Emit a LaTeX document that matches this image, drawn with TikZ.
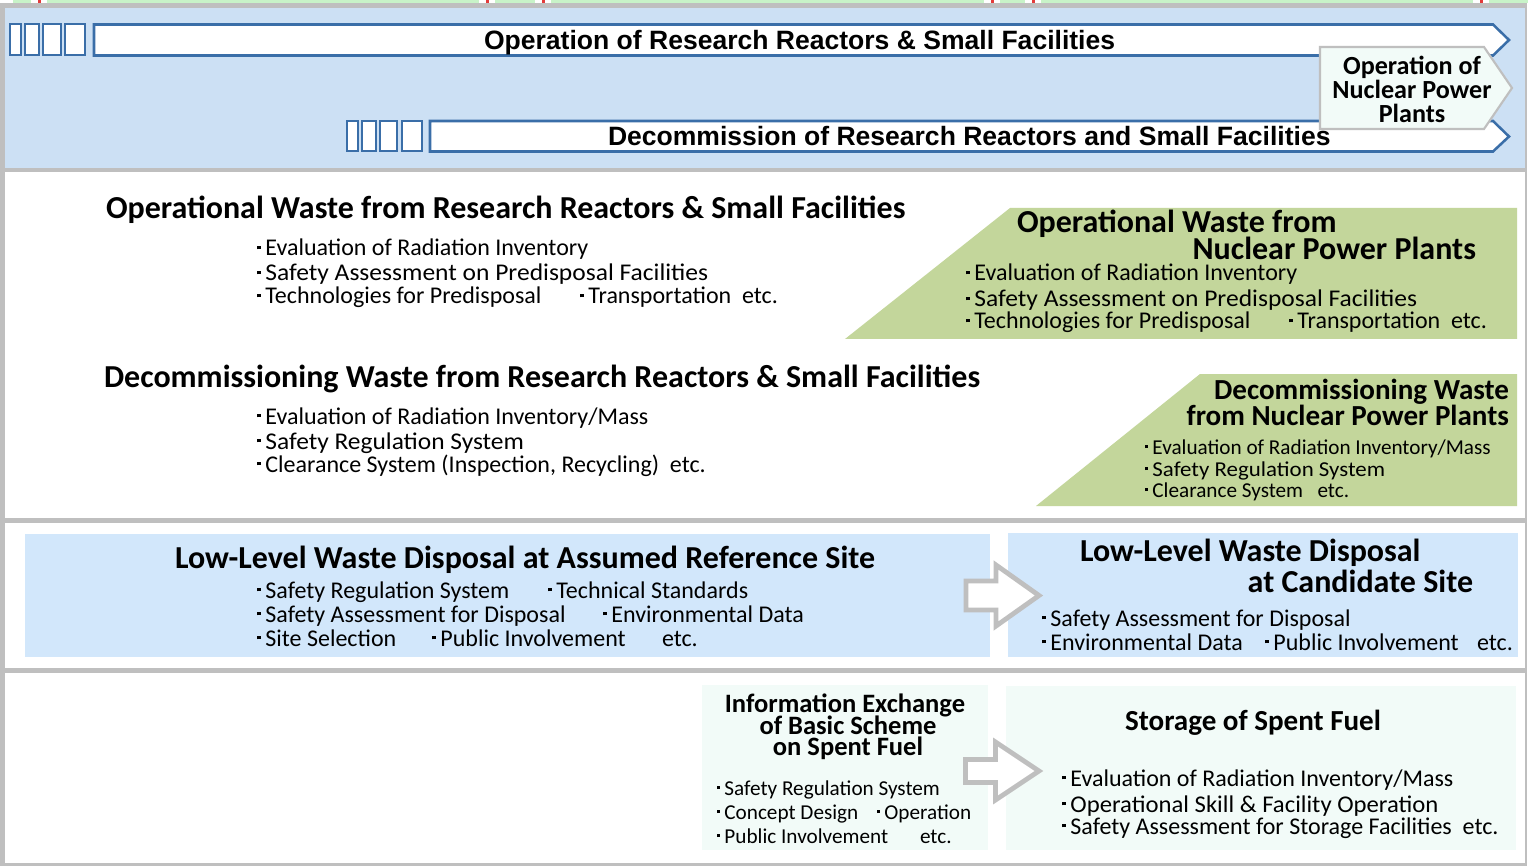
\documentclass[tikz,border=0pt]{standalone}
\usepackage{fontspec}
\setmainfont{Carlito}
\newfontfamily\arialf{Liberation Sans}
\definecolor{hdrbg}{HTML}{CCE0F4}
\definecolor{hdrline}{HTML}{3A6EA8}
\definecolor{sepgray}{HTML}{BFBFBF}
\definecolor{leafgreen}{HTML}{C3D69B}
\definecolor{boxblue}{HTML}{D2E7FB}
\definecolor{boxmint}{HTML}{F2FBF8}
\definecolor{stripgreen}{HTML}{C8F3C8}
\definecolor{stripred}{HTML}{E23A3A}
\newcommand\bl{\rule[0.28em]{0.15em}{0.15em}\hspace{0.2em}}
\newcommand\wide[2]{\scalebox{#1}[1]{#2}}
\tikzset{
  txt/.style={inner sep=0pt, outer sep=0pt},
  hdr/.style={txt, anchor=base west, font=\arialf\bfseries\fontsize{19.9}{20}\selectfont},
  npp/.style={txt, anchor=base, font=\bfseries\fontsize{19.6}{20}\selectfont},
  ttl/.style={txt, font=\bfseries\fontsize{24}{24}\selectfont},
  ttm/.style={txt, font=\bfseries\fontsize{21.8}{22}\selectfont},
  tts/.style={txt, anchor=base, font=\bfseries\fontsize{19.9}{20}\selectfont},
  itm/.style={txt, anchor=base west, font=\fontsize{18}{18}\selectfont},
  itms/.style={txt, anchor=base west, font=\fontsize{15.9}{16}\selectfont},
  sq/.style={draw=hdrline, line width=1.5pt, fill=white},
  bar/.style={draw=hdrline, line width=1.9pt, fill=white, line join=miter},
  blockarrow/.style={draw=sepgray, line width=3.6pt, fill=white, line join=miter},
}
\begin{document}
\begin{tikzpicture}[x=0.75pt,y=-0.75pt]
\useasboundingbox (0,0) rectangle (1528,866);
% top strip remnant
\fill[stripgreen] (13,0) rectangle (1528,3.5);
\foreach \xx in {39,487,543,992,1033,1481}{
  \fill[white] (\xx-8,0) rectangle (\xx+8,3.5);
  \fill[stripred] (\xx-1,0) rectangle (\xx+1.5,3.5);
}
% frame and panels
\fill[sepgray] (0,3.5) rectangle (1527,866);
\fill[hdrbg] (5,8) rectangle (1525,168);
\fill[white] (5,172.5) rectangle (1525,518);
\fill[white] (5,523) rectangle (1525,668);
\fill[white] (5,673) rectangle (1525,863);

% ---- panel 1 ----
\draw[sq] (9.5,24.5) rectangle (21,55.5);
\draw[sq] (25,24.5) rectangle (39,55.5);
\draw[sq] (43,24.5) rectangle (60.5,55.5);
\draw[sq] (64.5,24.5) rectangle (85,55.5);
\draw[bar] (94,24.5) -- (1493,24.5) -- (1509,40) -- (1493,55.5) -- (94,55.5) -- cycle;
\node[hdr] (hdr1) at (484,50) {Operation of Research Reactors \& Small Facilities};

\draw[sq] (347,121) rectangle (358,151.5);
\draw[sq] (361.5,121) rectangle (376,151.5);
\draw[sq] (380,121) rectangle (397,151.5);
\draw[sq] (401.5,121) rectangle (421.5,151.5);
\draw[bar] (430,121) -- (1493,121) -- (1509,136.5) -- (1493,151.5) -- (430,151.5) -- cycle;
\node[hdr] (hdr2) at (608,146) {Decommission of Research Reactors and Small Facilities};

\draw[draw=sepgray, line width=1.6pt, fill=boxmint, line join=miter]
  (1320,47) -- (1484,47) -- (1512,88) -- (1484,129) -- (1320,129) -- cycle;
\node[npp] (npp1) at (1412,74.5) {Operation of};
\node[npp] (npp2) at (1412,98.5) {Nuclear Power};
\node[npp] (npp3) at (1412,122.5) {Plants};

% ---- panel 2 ----
\node[ttl, anchor=base west] (owrr) at (106,219) {Operational Waste from Research Reactors \& Small Facilities};
\node[itm] (owrr1) at (257,256) {\bl Evaluation of Radiation Inventory};
\node[itm] (owrr2) at (257,281) {\bl \wide{1.063}{Safety Assessment on Predisposal Facilities}};
\node[itm] (owrr3) at (257,304) {\bl Technologies for Predisposal};
\node[itm] (owrr4) at (580,304) {\bl Transportation\ \ etc.};

\fill[leafgreen] (845,339) -- (1010,208) -- (1517,208) -- (1517,339) -- cycle;
\node[ttl, anchor=base west] (ownpp1) at (1017,233) {Operational Waste from};
\node[ttl, anchor=base east] (ownpp2) at (1476,260) {Nuclear Power Plants};
\node[itm] (ownpp3) at (966,281) {\bl Evaluation of Radiation Inventory};
\node[itm] (ownpp4) at (966,307) {\bl \wide{1.063}{Safety Assessment on Predisposal Facilities}};
\node[itm] (ownpp5) at (966,329) {\bl Technologies for Predisposal};
\node[itm] (ownpp6) at (1289,329) {\bl Transportation\ \ etc.};

\node[ttl, anchor=base west] (dwrr) at (104,387) {Decommissioning Waste from Research Reactors \& Small Facilities};
\node[itm] (dwrr1) at (257,424) {\bl Evaluation of Radiation Inventory/Mass};
\node[itm] (dwrr2) at (257,449) {\bl \wide{1.06}{Safety Regulation System}};
\node[itm] (dwrr3) at (257,472) {\bl Clearance System (Inspection, Recycling)\ \ etc.};

\fill[leafgreen] (1036,506) -- (1200,374) -- (1517,374) -- (1517,506) -- cycle;
\node[ttm, anchor=base east] (dwnpp1) at (1509,399) {Decommissioning Waste};
\node[ttm, anchor=base east] (dwnpp2) at (1509,425) {from Nuclear Power Plants};
\node[itms] (dwnpp3) at (1145,454) {\bl Evaluation of Radiation Inventory/Mass};
\node[itms] (dwnpp4) at (1145,476) {\bl \wide{1.08}{Safety Regulation System}};
\node[itms] (dwnpp5) at (1145,497) {\bl Clearance System\ \ \ etc.};

% ---- panel 3 ----
\fill[boxblue] (25,534) rectangle (990,657);
\node[ttl, anchor=base west] (llref) at (175,568) {Low-Level Waste Disposal at Assumed Reference Site};
\node[itm] (llref1) at (257,598) {\bl Safety Regulation System};
\node[itm] (llref2) at (257,622) {\bl Safety Assessment for Disposal};
\node[itm] (llref3) at (257,646) {\bl Site Selection};
\node[itm] (llref4) at (548,598) {\bl Technical Standards};
\node[itm] (llref5) at (603,622) {\bl Environmental Data};
\node[itm] (llref6) at (432,646) {\bl Public Involvement};
\node[itm] (llref7) at (662,646) {etc.};

\fill[boxblue] (1008,533) rectangle (1518,657);
\node[ttl, anchor=base west] (llcand1) at (1080,561) {Low-Level Waste Disposal};
\node[ttl, anchor=base east] (llcand2) at (1473,592) {at Candidate Site};
\node[itm] (llcand3) at (1042,626) {\bl Safety Assessment for Disposal};
\node[itm] (llcand4) at (1042,650) {\bl Environmental Data};
\node[itm] (llcand5) at (1265,650) {\bl Public Involvement};
\node[itm] (llcand6) at (1477,650) {etc.};

\draw[blockarrow] (966,581) -- (996,581) -- (996,565) -- (1039,595.5) -- (996,626) -- (996,610) -- (966,610) -- cycle;

% ---- panel 4 ----
\fill[boxmint] (702,685) rectangle (988,850);
\node[tts] (info1) at (845,712) {Information Exchange};
\node[tts] (info2) at (848,734) {of Basic Scheme};
\node[tts] (info3) at (848,755) {on Spent Fuel};
\node[itms] (info4) at (717,795) {\bl Safety Regulation System};
\node[itms] (info5) at (717,819) {\bl Concept Design};
\node[itms] (info6) at (877,819) {\bl Operation};
\node[itms] (info7) at (717,843) {\bl Public Involvement};
\node[itms] (info8) at (920,843) {etc.};

\fill[boxmint] (1006,686) rectangle (1516,850);
\node[ttm, anchor=base] (stor) at (1253,730) {Storage of Spent Fuel};
\node[itm] (stor1) at (1062,786) {\bl Evaluation of Radiation Inventory/Mass};
\node[itm] (stor2) at (1062,812) {\bl \wide{1.03}{Operational Skill \& Facility Operation}};
\node[itm] (stor3) at (1062,834) {\bl Safety Assessment for Storage Facilities\ \ etc.};

\draw[blockarrow] (965.5,759.5) -- (995.5,759.5) -- (995.5,742) -- (1039,771) -- (995.5,800) -- (995.5,782.5) -- (965.5,782.5) -- cycle;
\end{tikzpicture}
\end{document}
